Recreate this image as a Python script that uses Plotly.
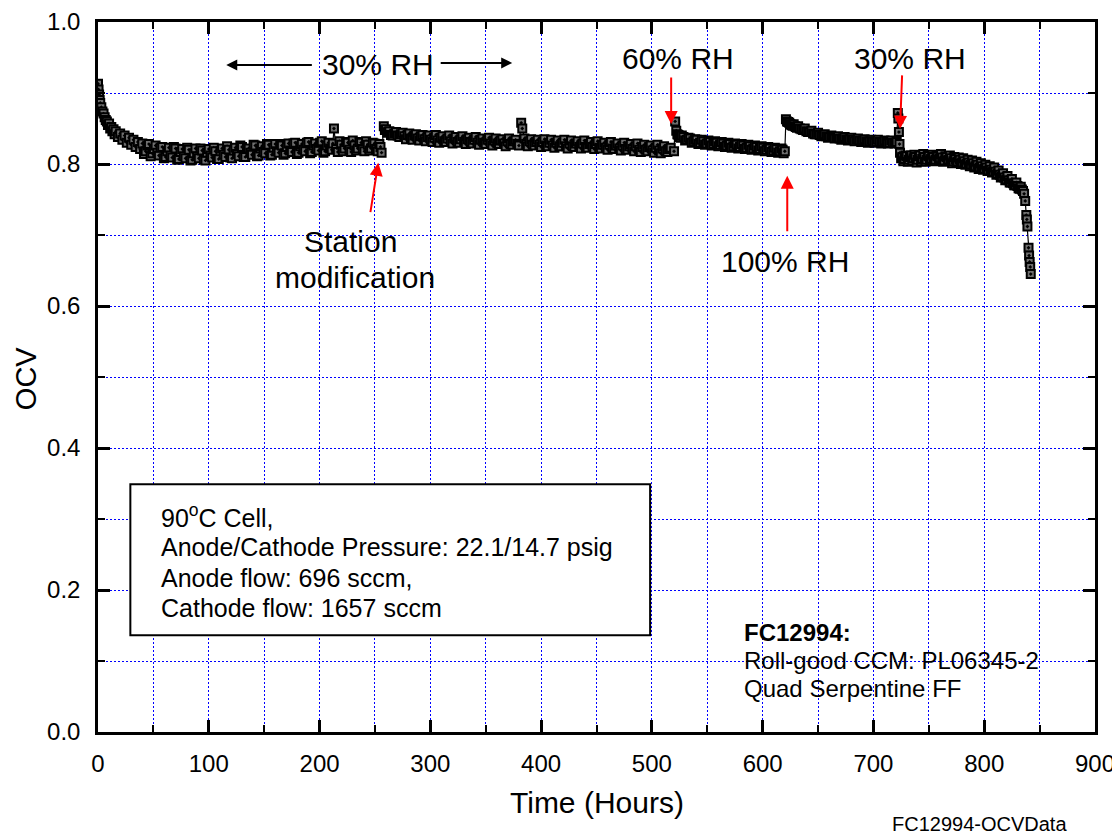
import plotly.graph_objects as go

# ---------------- data ----------------
# Segment 1: 30% RH, 0-256 h (two interleaved readings of the dense band)
t_seg1 = [0, 0.5, 1, 1.5, 2, 3, 4, 5, 6, 7, 8, 9, 10, 11, 12, 13, 14, 15, 16, 18,
          20, 22, 24, 26, 28, 30, 32, 34, 36, 38, 40, 43, 46, 49, 52, 55, 58, 61, 64, 67,
          70, 73, 76, 79, 82, 85, 88, 91, 94, 97, 100, 103, 106, 109, 112, 115, 118, 121, 124, 127,
          130, 133, 136, 139, 142, 145, 148, 151, 154, 157, 160, 163, 166, 169, 172, 175, 178, 181, 184, 187,
          190, 193, 196, 199, 202, 205, 208, 211, 213, 215, 218, 221, 224, 227, 230, 233, 236, 239, 242, 245,
          248, 251, 254, 256]
v_seg1 = [0.913, 0.905, 0.898, 0.890, 0.886, 0.880, 0.874, 0.871, 0.866, 0.862, 0.860, 0.855, 0.857, 0.850, 0.852, 0.846, 0.849, 0.842, 0.846, 0.838,
          0.843, 0.834, 0.840, 0.830, 0.837, 0.827, 0.834, 0.824, 0.831, 0.821, 0.829, 0.818, 0.828, 0.815, 0.826, 0.812, 0.824, 0.810, 0.823, 0.809,
          0.822, 0.807, 0.821, 0.808, 0.820, 0.806, 0.822, 0.808, 0.819, 0.805, 0.821, 0.809, 0.818, 0.807, 0.822, 0.810, 0.820, 0.808, 0.823, 0.811,
          0.824, 0.810, 0.822, 0.813, 0.826, 0.812, 0.825, 0.815, 0.827, 0.813, 0.828, 0.816, 0.826, 0.815, 0.829, 0.817, 0.830, 0.816, 0.828, 0.818,
          0.831, 0.817, 0.829, 0.819, 0.832, 0.818, 0.830, 0.820, 0.850, 0.821, 0.832, 0.818, 0.831, 0.820, 0.833, 0.819, 0.831, 0.821, 0.832, 0.819,
          0.830, 0.821, 0.828, 0.816]
t_seg1b = [41.5, 44.5, 47.5, 50.5, 53.5, 56.5, 59.5, 62.5, 65.5, 68.5, 71.5, 74.5, 77.5, 80.5, 83.5, 86.5, 89.5, 92.5, 95.5, 98.5,
           101.5, 104.5, 107.5, 110.5, 113.5, 116.5, 119.5, 122.5, 125.5, 128.5, 131.5, 134.5, 137.5, 140.5, 143.5, 146.5, 149.5, 152.5, 155.5, 158.5,
           161.5, 164.5, 167.5, 170.5, 173.5, 176.5, 179.5, 182.5, 185.5, 188.5, 191.5, 194.5, 197.5, 200.5, 203.5, 206.5, 209.5, 212, 216.5, 219.5,
           222.5, 225.5, 228.5, 231.5, 234.5, 237.5, 240.5, 243.5, 246.5, 249.5, 252.5, 255]
v_seg1b = [0.814, 0.826, 0.811, 0.821, 0.816, 0.823, 0.808, 0.818, 0.812, 0.824, 0.806, 0.817, 0.811, 0.823, 0.805, 0.815, 0.811, 0.822, 0.806, 0.816,
           0.812, 0.823, 0.807, 0.818, 0.813, 0.825, 0.809, 0.819, 0.814, 0.826, 0.810, 0.821, 0.816, 0.827, 0.811, 0.822, 0.817, 0.828, 0.812, 0.823,
           0.818, 0.828, 0.813, 0.824, 0.819, 0.829, 0.814, 0.825, 0.820, 0.830, 0.815, 0.826, 0.821, 0.830, 0.816, 0.826, 0.822, 0.829, 0.817, 0.827,
           0.822, 0.830, 0.817, 0.826, 0.822, 0.830, 0.818, 0.827, 0.822, 0.829, 0.818, 0.824]

# Segment 2: after station modification, 258-520 h
t_seg2 = [258, 259, 261, 263, 266, 269, 272, 275, 278, 281, 284, 287, 290, 293, 296, 299, 302, 305, 308, 311,
          314, 317, 320, 323, 326, 329, 332, 335, 338, 341, 344, 347, 350, 353, 356, 359, 362, 365, 368, 371,
          374, 377, 380, 382, 383, 385, 388, 391, 394, 397, 400, 403, 406, 409, 412, 415, 418, 421, 424, 427,
          430, 433, 436, 439, 442, 445, 448, 451, 454, 457, 460, 463, 466, 469, 472, 475, 478, 481, 484, 487,
          490, 493, 496, 499, 502, 505, 508, 511, 514, 517, 520]
v_seg2 = [0.853, 0.848, 0.844, 0.846, 0.840, 0.845, 0.838, 0.844, 0.835, 0.843, 0.834, 0.842, 0.833, 0.841, 0.832, 0.840, 0.831, 0.841, 0.830, 0.839,
          0.831, 0.840, 0.829, 0.838, 0.830, 0.839, 0.828, 0.837, 0.829, 0.838, 0.827, 0.836, 0.828, 0.837, 0.826, 0.836, 0.828, 0.835, 0.825, 0.836,
          0.827, 0.834, 0.826, 0.858, 0.850, 0.836, 0.825, 0.835, 0.826, 0.834, 0.824, 0.835, 0.825, 0.834, 0.823, 0.833, 0.825, 0.834, 0.822, 0.833,
          0.824, 0.832, 0.822, 0.833, 0.823, 0.831, 0.821, 0.832, 0.822, 0.830, 0.820, 0.831, 0.821, 0.829, 0.819, 0.830, 0.820, 0.828, 0.818, 0.829,
          0.817, 0.827, 0.818, 0.826, 0.816, 0.827, 0.815, 0.825, 0.817, 0.823, 0.818]
t_seg2b = [260, 262, 264.5, 267.5, 270.5, 273.5, 276.5, 279.5, 282.5, 285.5, 288.5, 291.5, 294.5, 297.5, 300.5, 303.5, 306.5, 309.5, 312.5, 315.5,
           318.5, 321.5, 324.5, 327.5, 330.5, 333.5, 336.5, 339.5, 342.5, 345.5, 348.5, 351.5, 354.5, 357.5, 360.5, 363.5, 366.5, 369.5, 372.5, 375.5,
           378.5, 386.5, 389.5, 392.5, 395.5, 398.5, 401.5, 404.5, 407.5, 410.5, 413.5, 416.5, 419.5, 422.5, 425.5, 428.5, 431.5, 434.5, 437.5, 440.5,
           443.5, 446.5, 449.5, 452.5, 455.5, 458.5, 461.5, 464.5, 467.5, 470.5, 473.5, 476.5, 479.5, 482.5, 485.5, 488.5, 491.5, 494.5, 497.5, 500.5,
           503.5, 506.5, 509.5, 512.5, 515.5]
v_seg2b = [0.849, 0.845, 0.841, 0.843, 0.840, 0.842, 0.839, 0.841, 0.836, 0.840, 0.836, 0.839, 0.835, 0.838, 0.834, 0.837, 0.833, 0.837, 0.832, 0.836,
           0.832, 0.836, 0.831, 0.835, 0.831, 0.835, 0.831, 0.834, 0.830, 0.834, 0.830, 0.834, 0.829, 0.833, 0.829, 0.833, 0.829, 0.832, 0.828, 0.832,
           0.828, 0.828, 0.832, 0.827, 0.831, 0.827, 0.831, 0.826, 0.830, 0.826, 0.830, 0.825, 0.830, 0.825, 0.829, 0.825, 0.829, 0.824, 0.829, 0.824,
           0.828, 0.824, 0.828, 0.823, 0.827, 0.823, 0.827, 0.822, 0.826, 0.822, 0.826, 0.821, 0.825, 0.821, 0.825, 0.820, 0.824, 0.820, 0.824, 0.819,
           0.823, 0.819, 0.822, 0.818, 0.821]

# Segment 3: 60% RH, 521-620 h
t_seg3 = [521, 522, 523, 525, 527, 530, 533, 536, 539, 542, 545, 548, 551, 554, 557, 560, 563, 566, 569, 572,
          575, 578, 581, 584, 587, 590, 593, 596, 599, 602, 605, 608, 611, 614, 617, 619, 620]
v_seg3 = [0.860, 0.847, 0.842, 0.838, 0.840, 0.833, 0.837, 0.830, 0.835, 0.828, 0.834, 0.827, 0.833, 0.826, 0.832, 0.825, 0.831, 0.824, 0.830, 0.823,
          0.829, 0.822, 0.828, 0.821, 0.827, 0.820, 0.826, 0.819, 0.825, 0.818, 0.824, 0.817, 0.823, 0.816, 0.822, 0.815, 0.818]
t_seg3b = [524, 526, 528.5, 531.5, 534.5, 537.5, 540.5, 543.5, 546.5, 549.5, 552.5, 555.5, 558.5, 561.5, 564.5, 567.5, 570.5, 573.5, 576.5, 579.5,
           582.5, 585.5, 588.5, 591.5, 594.5, 597.5, 600.5, 603.5, 606.5, 609.5, 612.5, 615.5, 618]
v_seg3b = [0.841, 0.837, 0.838, 0.834, 0.836, 0.832, 0.834, 0.830, 0.832, 0.829, 0.831, 0.828, 0.830, 0.827, 0.829, 0.826, 0.828, 0.825, 0.827, 0.824,
           0.826, 0.823, 0.825, 0.822, 0.824, 0.821, 0.823, 0.820, 0.822, 0.819, 0.821, 0.818, 0.820]

# Segment 4: 100% RH, 621-721 h
t_seg4 = [621, 622, 624, 626, 628, 630, 632, 635, 638, 641, 644, 647, 650, 653, 656, 659, 662, 665, 668, 671,
          674, 677, 680, 683, 686, 689, 692, 695, 698, 701, 704, 707, 710, 713, 716, 719, 721]
v_seg4 = [0.863, 0.860, 0.858, 0.855, 0.856, 0.852, 0.853, 0.849, 0.850, 0.845, 0.847, 0.842, 0.844, 0.839, 0.842, 0.837, 0.840, 0.836, 0.839, 0.834,
          0.838, 0.833, 0.837, 0.832, 0.836, 0.831, 0.835, 0.830, 0.834, 0.830, 0.834, 0.829, 0.833, 0.829, 0.833, 0.829, 0.831]
t_seg4b = [623, 625, 627, 629, 631, 633.5, 636.5, 639.5, 642.5, 645.5, 648.5, 651.5, 654.5, 657.5, 660.5, 663.5, 666.5, 669.5, 672.5, 675.5,
           678.5, 681.5, 684.5, 687.5, 690.5, 693.5, 696.5, 699.5, 702.5, 705.5, 708.5, 711.5, 714.5, 717.5, 720]
v_seg4b = [0.859, 0.856, 0.854, 0.853, 0.851, 0.850, 0.848, 0.846, 0.845, 0.843, 0.842, 0.841, 0.840, 0.839, 0.838, 0.838, 0.837, 0.836, 0.836, 0.835,
           0.835, 0.834, 0.834, 0.833, 0.833, 0.832, 0.832, 0.832, 0.831, 0.831, 0.831, 0.831, 0.830, 0.830, 0.830]

# Segment 5: back to 30% RH, 722-842 h
t_seg5 = [722, 722.5, 723, 723.5, 724, 725, 727, 729, 731, 733, 735, 737, 739, 741, 743, 745, 747, 749, 751, 753,
          755, 757, 759, 761, 763, 765, 767, 769, 771, 773, 775, 777, 779, 781, 783, 785, 787, 789, 791, 793,
          795, 797, 799, 801, 803, 805, 807, 809, 811, 813, 815, 817, 819, 821, 823, 825, 827, 829, 831, 833,
          835, 836, 837, 838, 838.5, 839, 840, 840.5, 841, 841.5, 842]
v_seg5 = [0.872, 0.864, 0.845, 0.828, 0.816, 0.808, 0.804, 0.812, 0.803, 0.810, 0.805, 0.813, 0.802, 0.811, 0.804, 0.814, 0.803, 0.812, 0.805, 0.813,
          0.804, 0.812, 0.806, 0.814, 0.803, 0.811, 0.805, 0.812, 0.801, 0.810, 0.802, 0.809, 0.800, 0.808, 0.799, 0.806, 0.797, 0.805, 0.795, 0.803,
          0.793, 0.801, 0.792, 0.799, 0.790, 0.797, 0.788, 0.795, 0.785, 0.791, 0.781, 0.787, 0.777, 0.783, 0.774, 0.779, 0.770, 0.774, 0.766, 0.768,
          0.762, 0.758, 0.748, 0.728, 0.722, 0.712, 0.682, 0.671, 0.662, 0.655, 0.645]
t_seg5b = [726, 728, 730, 732, 734, 736, 738, 740, 742, 744, 746, 748, 750, 752, 754, 756, 758, 760, 762, 764,
           766, 768, 770, 772, 774, 776, 778, 780, 782, 784, 786, 788, 790, 792, 794, 796, 798, 800, 802, 804,
           806, 808, 810, 812, 814, 816, 818, 820, 822, 824, 826, 828, 830, 832, 834]
v_seg5b = [0.810, 0.807, 0.811, 0.806, 0.812, 0.808, 0.810, 0.806, 0.812, 0.807, 0.810, 0.806, 0.811, 0.807, 0.810, 0.806, 0.811, 0.808, 0.809, 0.805,
           0.810, 0.806, 0.808, 0.804, 0.807, 0.803, 0.806, 0.802, 0.804, 0.800, 0.802, 0.799, 0.801, 0.797, 0.799, 0.795, 0.797, 0.793, 0.795, 0.791,
           0.792, 0.789, 0.789, 0.786, 0.785, 0.782, 0.781, 0.778, 0.777, 0.774, 0.773, 0.770, 0.769, 0.765, 0.764]

x_ticks = [0, 100, 200, 300, 400, 500, 600, 700, 800, 900]
y_ticks = [0.0, 0.2, 0.4, 0.6, 0.8, 1.0]

box_lines = ["90<sup>o</sup>C Cell,",
             "Anode/Cathode Pressure: 22.1/14.7 psig",
             "Anode flow: 696 sccm,",
             "Cathode flow: 1657 sccm"]
id_lines = ["<b>FC12994:</b>", "Roll-good CCM: PL06345-2", "Quad Serpentine FF"]

# merge the interleaved readings of each segment in time order
pairs = sorted(list(zip(t_seg1, v_seg1)) + list(zip(t_seg1b, v_seg1b))) + \
        sorted(list(zip(t_seg2, v_seg2)) + list(zip(t_seg2b, v_seg2b))) + \
        sorted(list(zip(t_seg3, v_seg3)) + list(zip(t_seg3b, v_seg3b))) + \
        sorted(list(zip(t_seg4, v_seg4)) + list(zip(t_seg4b, v_seg4b))) + \
        sorted(list(zip(t_seg5, v_seg5)) + list(zip(t_seg5b, v_seg5b)))
time_h = [p[0] for p in pairs]
ocv = [p[1] for p in pairs]

FONT = "Arial, Liberation Sans, Helvetica, sans-serif"

# ---------------- figure ----------------
fig = go.Figure()
fig.add_trace(go.Scatter(
    x=time_h, y=ocv, mode="lines+markers",
    line=dict(color="black", width=1.2),
    marker=dict(symbol="square-dot", size=8, color="#6e6e6e",
                line=dict(color="#000000", width=2)),
    showlegend=False, hoverinfo="x+y"))

axis_common = dict(
    showline=True, linecolor="black", linewidth=2.5, mirror="ticks",
    ticks="inside", tickcolor="black", tickwidth=2.5, ticklen=12,
    showgrid=True, gridcolor="#0000ff", gridwidth=1, griddash="2px,2px",
    zeroline=False, automargin=False, ticklabeloverflow="allow",
    tickfont=dict(family=FONT, size=24, color="black"),
)

fig.update_xaxes(range=[0, 900], tickvals=x_ticks, ticktext=[str(v) for v in x_ticks],
                 minor=dict(ticks="inside", ticklen=7, tickwidth=2, tickcolor="black", dtick=50,
                            showgrid=True, gridcolor="#0000ff", gridwidth=1, griddash="2px,2px"),
                 ticklabelstandoff=8, **axis_common)
fig.update_yaxes(range=[0, 1.0], tickvals=y_ticks, ticktext=["%.1f" % v for v in y_ticks],
                 minor=dict(ticks="inside", ticklen=7, tickwidth=2, tickcolor="black", dtick=0.1,
                            showgrid=True, gridcolor="#0000ff", gridwidth=1, griddash="2px,2px"),
                 ticklabelstandoff=10, **axis_common)

annotations = []
annotations.append(dict(text="Time (Hours)", xref="paper", yref="paper", x=0.5, y=-0.0999,
                        xanchor="center", yanchor="middle", showarrow=False,
                        font=dict(family=FONT, size=30, color="black")))
annotations.append(dict(text="OCV", xref="paper", yref="paper", x=-0.0715, y=0.498, textangle=-90,
                        xanchor="center", yanchor="middle", showarrow=False,
                        font=dict(family=FONT, size=29, color="black")))
annotations.append(dict(text="FC12994-OCVData", xref="paper", yref="paper", x=0.8837, y=-0.1295,
                        xanchor="center", yanchor="middle", showarrow=False,
                        font=dict(family=FONT, size=20, color="black")))

lab_font = dict(family=FONT, size=30, color="black")
for txt, x, y in [("30% RH", 252.9, 0.9395), ("60% RH", 523.6, 0.948), ("30% RH", 733.1, 0.948),
                  ("Station", 227.7, 0.6906), ("modification", 232.2, 0.640), ("100% RH", 620.4, 0.6624)]:
    annotations.append(dict(text=txt, x=x, y=y, xref="x", yref="y", showarrow=False,
                            xanchor="center", yanchor="middle", font=lab_font))

# arrows: (head_x, head_y, tail_x, tail_y, color)
arrows = [(115.8, 0.9395, 194.4, 0.9395, "black"),
          (373.9, 0.9423, 308.0, 0.9423, "black"),
          (517.4, 0.8565, 517.4, 0.9241, "#ff0000"),
          (724.0, 0.8495, 725.9, 0.9269, "#ff0000"),
          (253.0, 0.8017, 245.7, 0.7300, "#ff0000"),
          (622.2, 0.7834, 622.2, 0.7032, "#ff0000")]
for hx, hy, tx, ty, col in arrows:
    annotations.append(dict(text="", x=hx, y=hy, ax=tx, ay=ty, xref="x", yref="y",
                            axref="x", ayref="y", showarrow=True, arrowhead=2,
                            arrowsize=1.3 if col != "black" else 1.1,
                            arrowwidth=2, arrowcolor=col, standoff=0, startstandoff=0))

box_font = dict(family=FONT, size=25, color="black")
for txt, y in zip(box_lines, [0.3038, 0.2602, 0.2166, 0.1744]):
    annotations.append(dict(text=txt, x=55.5, y=y, xref="x", yref="y", showarrow=False,
                            xanchor="left", yanchor="middle", font=box_font))
id_font = dict(family=FONT, size=24, color="black")
for txt, y in zip(id_lines, [0.1406, 0.1013, 0.0619]):
    annotations.append(dict(text=txt, x=581.4, y=y, xref="x", yref="y", showarrow=False,
                            xanchor="left", yanchor="middle", font=id_font))

# the page body adds an 8 px offset, so the figure is 8 px smaller and margins shifted
fig.update_layout(
    width=1112, height=832,
    margin=dict(l=90, r=25, t=14, b=108),
    paper_bgcolor="white", plot_bgcolor="white",
    annotations=annotations,
    shapes=[dict(type="rect", xref="x", yref="y", x0=29.2, x1=498.4, y0=0.1364, y1=0.3488,
                 line=dict(color="black", width=2), fillcolor="white", layer="above")],
    showlegend=False,
)

fig.write_html("out.html")
